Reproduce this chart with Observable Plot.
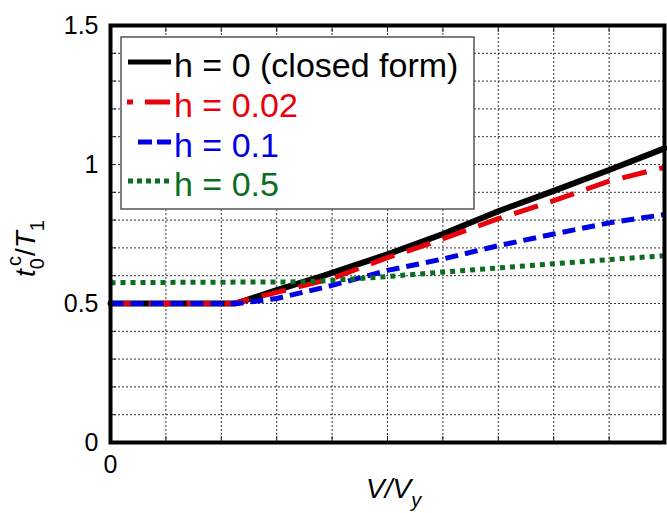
<!DOCTYPE html>
<html>
<head>
<meta charset="utf-8">
<script src="https://cdn.jsdelivr.net/npm/d3@7"></script>
<script src="https://cdn.jsdelivr.net/npm/@observablehq/plot@0.6"></script>
<style>
  html, body { margin: 0; padding: 0; background: white; }
</style>
</head>
<body>
<div id="chart"></div>
<script>
// ---- data ----
const seriesNames = ["h = 0 (closed form)", "h = 0.02", "h = 0.1", "h = 0.5"];
const seriesColors = ["#000000", "#e8000b", "#0000e6", "#0a6e1e"];

const xBlack = [0, 0.226, 0.3, 0.385, 0.5, 0.6, 0.7, 0.8, 0.9, 1.0];
const yBlack = [0.5, 0.5, 0.548, 0.6, 0.677, 0.75, 0.832, 0.905, 0.98, 1.058];

const xRed = [0, 0.22, 0.3, 0.4, 0.5, 0.577, 0.7, 0.8, 0.9, 1.0];
const yRed = [0.5, 0.5, 0.54, 0.59, 0.665, 0.716, 0.805, 0.87, 0.94, 0.99];

const xBlue = [0, 0.23, 0.3, 0.4, 0.5, 0.6, 0.7, 0.8, 0.9, 1.0];
const yBlue = [0.5, 0.5, 0.518, 0.565, 0.619, 0.66, 0.708, 0.75, 0.79, 0.82];

const xGreen = [0, 0.35, 0.4, 0.5, 0.6, 0.7, 0.8, 0.9, 1.0];
const yGreen = [0.575, 0.578, 0.583, 0.597, 0.613, 0.628, 0.643, 0.658, 0.672];

const xGridTicks = [0.1, 0.2, 0.3, 0.4, 0.5, 0.6, 0.7, 0.8, 0.9];
const yGridTicks = [0.1, 0.2, 0.3, 0.4, 0.5, 0.6, 0.7, 0.8, 0.9, 1.0, 1.1, 1.2, 1.3, 1.4];
const yTickLabels = [0, 0.5, 1, 1.5];
const xTickLabels = [0];

// ---- build tables ----
const pts = (xs, ys) => xs.map((x, i) => ({x, y: ys[i]}));
const dBlack = pts(xBlack, yBlack);
const dRed = pts(xRed, yRed);
const dBlue = pts(xBlue, yBlue);
const dGreen = pts(xGreen, yGreen);

const FONT = "Arial, 'Liberation Sans', Helvetica, sans-serif";
const dashes = [null, "25,13", "13,7", "5,5"];

const plot = Plot.plot({
  width: 667,
  height: 513,
  marginLeft: 110,
  marginRight: 3,
  marginTop: 25,
  marginBottom: 71,
  x: {domain: [0, 1]},
  y: {domain: [0, 1.5]},
  style: {fontFamily: FONT, background: "white", color: "black"},
  marks: [
    Plot.gridX(xGridTicks, {stroke: "#333", strokeOpacity: 1, strokeWidth: 1, strokeDasharray: "2,2"}),
    Plot.gridY(yGridTicks, {stroke: "#333", strokeOpacity: 1, strokeWidth: 1, strokeDasharray: "2,2"}),
    Plot.axisY(yGridTicks, {anchor: "left", tickSize: -6, text: null, label: null, stroke: "#222"}),
    Plot.axisX(xGridTicks, {anchor: "top", tickSize: -6, text: null, label: null, stroke: "#222"}),
    Plot.axisX(xGridTicks, {anchor: "bottom", tickSize: -6, text: null, label: null, stroke: "#222"}),
    Plot.line(dBlack, {x: "x", y: "y", stroke: seriesColors[0], strokeWidth: 6}),
    Plot.line(dRed, {x: "x", y: "y", stroke: seriesColors[1], strokeWidth: 5, strokeDasharray: dashes[1], strokeLinecap: "butt"}),
    Plot.line(dBlue, {x: "x", y: "y", stroke: seriesColors[2], strokeWidth: 5, strokeDasharray: dashes[2], strokeLinecap: "butt"}),
    Plot.line(dGreen, {x: "x", y: "y", stroke: seriesColors[3], strokeWidth: 5, strokeDasharray: dashes[3], strokeLinecap: "butt"}),
    Plot.frame({stroke: "black", strokeWidth: 4}),
    Plot.axisY(yTickLabels, {anchor: "left", tickSize: 0, tickPadding: 12, fontSize: 25, label: null, tickFormat: d => String(d)}),
    Plot.axisX(xTickLabels, {anchor: "bottom", tickSize: 0, tickPadding: 13, fontSize: 25, label: null, tickFormat: d => String(d)})
  ]
});

document.getElementById("chart").appendChild(plot);

// ---- legend and axis titles ----
const svg = d3.select(plot);

const leg = svg.append("g").attr("font-family", FONT).attr("text-anchor", "start");
leg.append("rect")
  .attr("x", 121).attr("y", 37).attr("width", 353).attr("height", 172)
  .attr("fill", "white").attr("stroke", "#555").attr("stroke-width", 1.5);

const rowBase = [77, 117, 157, 196];
const sampleStart = [128, 127, 138, 128];
const sampleDash = [null, "6,12,25", "14,5,14", "5,4"];
seriesNames.forEach((name, i) => {
  const yb = rowBase[i];
  const ln = leg.append("line")
    .attr("x1", sampleStart[i]).attr("x2", 171)
    .attr("y1", yb - 15).attr("y2", yb - 15)
    .attr("stroke", seriesColors[i]).attr("stroke-width", 5);
  if (sampleDash[i]) ln.attr("stroke-dasharray", sampleDash[i]);
  leg.append("text")
    .attr("x", 174).attr("y", yb)
    .attr("font-size", 34)
    .attr("fill", seriesColors[i])
    .text(name);
});

// x title: V/V_y
const xt = svg.append("text")
  .attr("x", 366).attr("y", 498).attr("text-anchor", "start")
  .attr("font-family", FONT).attr("font-size", 28).attr("font-style", "italic");
xt.append("tspan").text("V/V");
xt.append("tspan").attr("font-size", 20).attr("dy", 9).text("y");

// y title: t_0^c / T_1 (rotated)
const yt = svg.append("text")
  .attr("transform", "translate(35,277) rotate(-90)").attr("text-anchor", "start")
  .attr("font-family", FONT).attr("font-size", 28);
yt.append("tspan").attr("font-style", "italic").text("t");
yt.append("tspan").attr("font-size", 20).attr("dy", 9).text("0");
yt.append("tspan").attr("font-size", 20).attr("dx", -8).attr("dy", -23).text("c");
yt.append("tspan").attr("dy", 14).text("/");
yt.append("tspan").attr("font-style", "italic").text("T");
yt.append("tspan").attr("font-size", 20).attr("dy", 9).text("1");
</script>
</body>
</html>
